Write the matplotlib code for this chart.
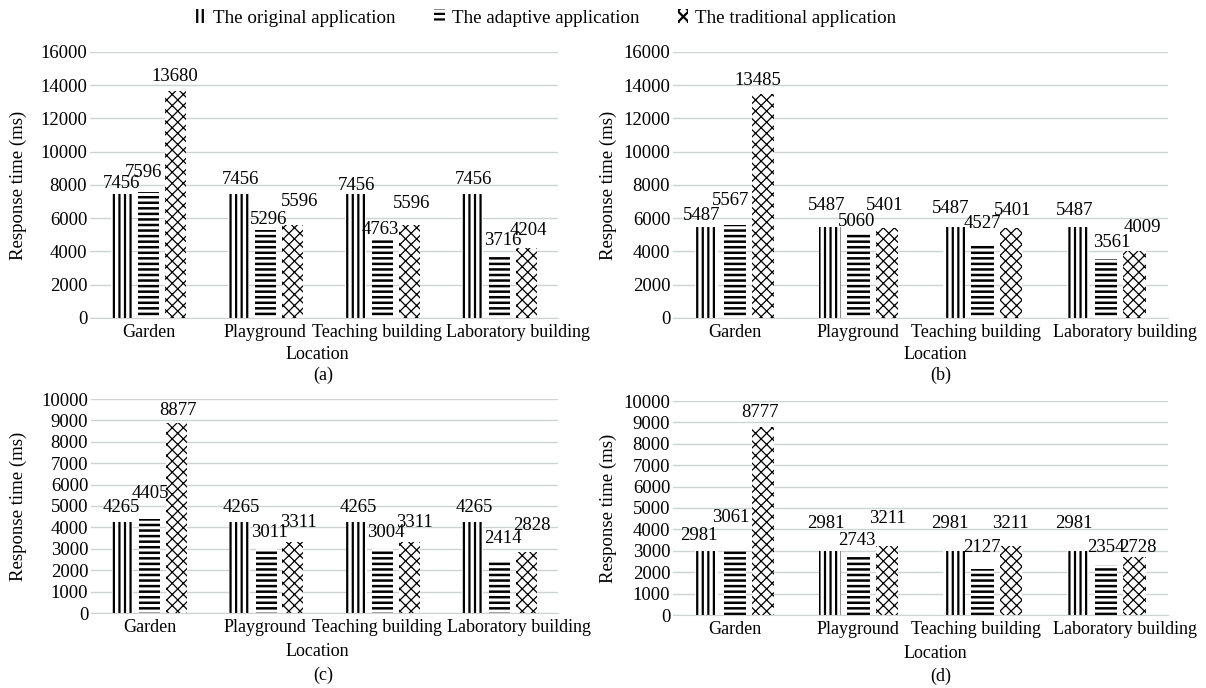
import numpy as np
import matplotlib
matplotlib.use('Agg')
import matplotlib.pyplot as plt
from matplotlib.patches import Patch
from matplotlib.transforms import ScaledTranslation

plt.rcParams['font.family'] = 'serif'
plt.rcParams['font.serif'] = ['Liberation Serif', 'DejaVu Serif']
plt.rcParams['hatch.linewidth'] = 1.6

# Data
locations = ['Garden', 'Playground', 'Teaching building', 'Laboratory building']
series_names = ['The original application', 'The adaptive application',
                'The traditional application']

a_original = [7456, 7456, 7456, 7456]
a_adaptive = [7596, 5296, 4763, 3716]
a_traditional = [13680, 5596, 5596, 4204]

b_original = [5487, 5487, 5487, 5487]
b_adaptive = [5567, 5060, 4527, 3561]
b_traditional = [13485, 5401, 5401, 4009]

c_original = [4265, 4265, 4265, 4265]
c_adaptive = [4405, 3011, 3004, 2414]
c_traditional = [8877, 3311, 3311, 2828]

d_original = [2981, 2981, 2981, 2981]
d_adaptive = [3061, 2743, 2127, 2354]
d_traditional = [8777, 3211, 3211, 2728]

# label placement tweaks (pixels): (dx, gap above bar) per series per location
a_offsets = [[(0, 6), (2, 10), (1, 4), (1, 10)],
             [(-5, 15), (3, 6), (-2, 5), (3, 11)],
             [(-1, 10), (7, 19), (2, 17), (2, 13)]]
b_offsets = [[(-5, 7), (-4, 17), (-3, 14), (-3, 12)],
             [(-4, 20), (-2, 8), (0, 15), (6, 12)],
             [(-5, 9), (-2, 18), (2, 13), (8, 19)]]
c_offsets = [[(-1, 10), (2, 10), (2, 10), (2, 10)],
             [(1, 21), (3, 12), (3, 12), (3, 18)],
             [(2, 8), (5, 15), (5, 15), (5, 22)]]
d_offsets = [[(-8, 11), (-4, 23), (-4, 23), (-4, 23)],
             [(-4, 27), (-2, 11), (0, 17), (0, 13)],
             [(-3, 10), (0, 23), (0, 18), (3, 5)]]

hatches = ['|||', '---', 'xxx']
hatch_lw = [1.6, 1.8, 0.9]
W, H = 1206, 688
FS = 13.5
XFS = 13
GRID = '#cfd3d6'

fig = plt.figure(figsize=(W / 100, H / 100), dpi=100)


def px_rect(x0, x1, ytop, ybot):
    return [x0 / W, 1 - ybot / H, (x1 - x0) / W, (ybot - ytop) / H]


def panel(rect, series, offsets, ymax, step, caption, ylab_x, loc_x, gaps):
    ax = fig.add_axes(rect)
    x = np.arange(len(locations))
    width, shift = 0.18, 0.23
    for i, vals in enumerate(series):
        bars = ax.bar(x + (i - 1) * shift, vals, width, color='white',
                      edgecolor='black', linewidth=0, hatch=hatches[i], zorder=2)
        for j, b in enumerate(bars):
            if hasattr(b, 'set_hatch_linewidth'):
                b.set_hatch_linewidth(hatch_lw[i])
            dx, gap = offsets[i][j]
            ax.annotate(str(vals[j]), (b.get_x() + b.get_width() / 2, b.get_height()),
                        xytext=(dx, gap), textcoords='offset pixels',
                        ha='center', va='baseline', fontsize=FS, zorder=3)
    ax.set_xlim(-0.5, len(locations) - 0.5)
    ax.set_ylim(0, ymax)
    ax.set_yticks(np.arange(0, ymax + 1, step))
    ax.grid(axis='y', color=GRID, linewidth=1, zorder=0)
    for s in ['top', 'right', 'left']:
        ax.spines[s].set_visible(False)
    ax.spines['bottom'].set_color(GRID)
    ax.tick_params(axis='both', length=0, labelsize=FS, pad=2)
    ax.tick_params(axis='x', pad=4, labelsize=XFS)
    ax.set_xticks(x)
    ax.set_xticklabels(locations)
    # nudge the long category labels like the original layout
    label_dx = [0, -1, -6, 19]
    for lab, d in zip(ax.get_xticklabels(), label_dx):
        lab.set_transform(lab.get_transform() +
                          ScaledTranslation(d / 100, 0, fig.dpi_scale_trans))
    ax.set_ylabel('Response time (ms)', fontsize=FS)
    ax.yaxis.set_label_coords(ylab_x, 0.5)
    y0 = ax.get_position().y0
    fig.text(loc_x / W, y0 - gaps[0] / H, 'Location', ha='center', va='center', fontsize=XFS)
    fig.text((loc_x + 6) / W, y0 - gaps[1] / H, caption, ha='center', va='center', fontsize=XFS)
    return ax


panel(px_rect(90, 558, 52, 318), [a_original, a_adaptive, a_traditional], a_offsets,
      16000, 2000, '(a)', -0.135, 317, (37, 57))
panel(px_rect(673, 1168, 52, 318), [b_original, b_adaptive, b_traditional], b_offsets,
      16000, 2000, '(b)', -0.113, 935, (37, 57))
panel(px_rect(91, 558, 399, 613), [c_original, c_adaptive, c_traditional], c_offsets,
      10000, 1000, '(c)', -0.137, 317, (39, 62))
panel(px_rect(673, 1168, 401, 615), [d_original, d_adaptive, d_traditional], d_offsets,
      10000, 1000, '(d)', -0.113, 935, (38, 61))

handles = [Patch(facecolor='white', edgecolor='black', linewidth=0, hatch=h) for h in hatches]
fig.legend(handles, series_names, loc='center', bbox_to_anchor=(546 / W, 1 - 18 / H),
           ncol=3, frameon=False, fontsize=13.7, handlelength=0.55, handleheight=0.7,
           handletextpad=0.35, columnspacing=2.05)

fig.savefig('out.png', dpi=100)
